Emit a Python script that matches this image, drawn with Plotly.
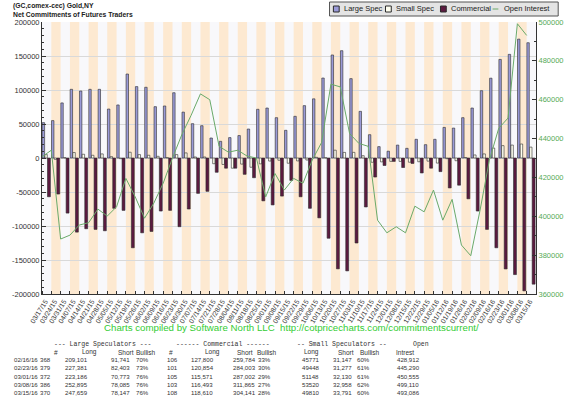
import plotly.graph_objects as go

# ---------------- data ----------------
dates = ["03/17/15", "03/24/15", "03/31/15", "04/07/15", "04/14/15", "04/21/15", "04/28/15",
         "05/05/15", "05/12/15", "05/19/15", "05/26/15", "06/02/15", "06/09/15", "06/16/15",
         "06/23/15", "06/30/15", "07/07/15", "07/14/15", "07/21/15", "07/28/15", "08/04/15",
         "08/11/15", "08/18/15", "08/25/15", "09/01/15", "09/08/15", "09/15/15", "09/22/15",
         "09/29/15", "10/06/15", "10/13/15", "10/20/15", "10/27/15", "11/03/15", "11/10/15",
         "11/17/15", "11/24/15", "12/01/15", "12/08/15", "12/15/15", "12/22/15", "12/29/15",
         "01/05/16", "01/12/16", "01/19/16", "01/26/16", "02/02/16", "02/09/16", "02/16/16",
         "02/23/16", "03/01/16", "03/08/16", "03/15/16"]

large_spec = [52000, 55000, 81000, 101000, 98500, 101000, 101000, 72000, 78000, 123500,
              105000, 104000, 75500, 76500, 96000, 67500, 50500, 47500, 29400, 24500,
              30000, 33000, 42600, 71600, 73500, 59300, 40700, 61300, 77000, 87000,
              117600, 151500, 157800, 116700, 68600, 34300, 16700, 10000, 19000, 14200,
              27500, 19600, 27500, 45000, 44000, 59300, 73500, 99000, 117360, 144978,
              152413, 174810, 169512]

small_spec = [5000, -2000, 500, 8000, 5500, 4000, 6000, 2000, -1000, 8500,
              5000, 4000, 2500, 500, 5000, 7500, 1500, 1500, -8400, -9500,
              -15000, -9000, -13600, -8600, -4500, -3300, -7700, -4300, -3000, 1000,
              400, 11500, 8200, 8300, 3400, -6300, -5700, -5000, -5000, -6200,
              -5500, -4600, -7500, -1000, -4000, 700, 4500, 6000, 14624, 18171,
              19018, 20562, 16019]

commercial = [-57000, -53000, -81000, -109000, -104000, -105000, -107000, -74000, -77000, -132000,
              -110000, -108000, -78000, -77000, -101000, -75000, -52000, -49000, -21000, -15000,
              -15000, -24000, -29000, -63000, -69000, -56000, -33000, -57000, -74000, -88000,
              -118000, -163000, -166000, -125000, -72000, -28000, -11000, -5000, -14000, -8000,
              -22000, -15000, -20000, -44000, -40000, -60000, -78000, -105000, -131984, -163149,
              -171431, -195372, -185531]

open_interest = [430600, 434000, 388300, 390300, 395500, 396700, 403700, 400100, 404900, 419500,
                 410000, 399000, 406800, 417000, 430000, 442000, 452000, 463000, 460000, 436000,
                 433000, 434000, 431000, 430000, 410000, 422000, 413500, 419500, 417000, 429000,
                 438000, 468000, 466600, 442600, 437500, 436000, 398000, 391500, 394600, 391500,
                 405200, 402300, 413500, 398000, 408700, 385200, 379700, 403200, 428912, 445290,
                 450555, 499110, 493086]

left_tick_vals = [200000, 150000, 100000, 50000, 0, -50000, -100000, -150000, -200000]
left_tick_text = ["200000", "150000", "100000", "50000", "0", "-50000", "-100000", "-150000", "-200000"]
right_tick_vals = [500000, 480000, 460000, 440000, 420000, 400000, 380000, 360000]
right_tick_text = ["500000", "480000", "460000", "440000", "420000", "400000", "380000", "360000"]

title_lines = ["(GC,comex-cec) Gold,NY", "Net Commitments of Futures Traders"]
footer_text = "Charts compiled by Software North LLC  http://cotpricecharts.com/commitmentscurrent/"
legend_names = ["Large Spec", "Small Spec", "Commercial", "Open Interest"]

# table
tbl_dates = ["02/16/16", "02/23/16", "03/01/16", "03/08/16", "03/15/16"]
ls_n = ["368", "379", "372", "386", "370"]
ls_long = ["209,101", "227,381", "223,186", "252,895", "247,659"]
ls_short = ["91,741", "82,403", "70,773", "78,085", "78,147"]
ls_bull = ["70%", "73%", "76%", "76%", "76%"]
cm_n = ["106", "101", "105", "103", "108"]
cm_long = ["127,800", "120,854", "115,571", "116,493", "118,610"]
cm_short = ["259,784", "284,003", "287,002", "311,865", "304,141"]
cm_bull = ["33%", "30%", "29%", "27%", "28%"]
ss_long = ["45771", "49448", "51148", "53520", "49810"]
ss_short = ["31,147", "31,277", "32,130", "32,958", "33,791"]
ss_bull = ["60%", "61%", "61%", "62%", "60%"]
oi_tbl = ["428,912", "445,290", "450,555", "499,110", "493,086"]
hdr1 = ["--- Large Speculators ---", "------ Commercial ------", "-- Small Speculators --", "Open"]
hdr2 = ["#", "Long", "Short", "Bullish", "#", "Long", "Short", "Bullish", "Long", "Short", "Bullish", "Intrest"]

# ---------------- style ----------------
W, H = 576, 397
L, R, T, B = 33, 31, 22, 103
PW, PH = W - L - R, H - T - B
C_LARGE = "#9a9ad8"
C_SMALL = "#fffff0"
C_COMM = "#5c1a40"
C_OI = "#6aaa6a"
C_EDGE = "#2a2a2a"
C_BAND = "#fde9d1"
C_BG = "#f8f8fb"
SANS = "Liberation Sans, Arial, sans-serif"
MONO = "Liberation Mono, DejaVu Sans Mono, monospace"


def fx(px):
    return (px - L) / PW


def fy(py):
    return (H - B - py) / PH


n = len(dates)
idx = list(range(n))

fig = go.Figure()
fig.add_trace(go.Bar(x=idx, y=large_spec, name=legend_names[0], offset=0.02, width=0.26,
                     marker=dict(color=C_LARGE, line=dict(color=C_EDGE, width=0.6)), showlegend=False))
fig.add_trace(go.Bar(x=idx, y=small_spec, name=legend_names[1], offset=0.31, width=0.26,
                     marker=dict(color=C_SMALL, line=dict(color=C_EDGE, width=0.6)), showlegend=False))
fig.add_trace(go.Bar(x=idx, y=commercial, name=legend_names[2], offset=0.59, width=0.31,
                     marker=dict(color=C_COMM, line=dict(color=C_EDGE, width=0.6)), showlegend=False))
fig.add_trace(go.Scatter(x=idx, y=open_interest, name=legend_names[3], yaxis="y2", mode="lines",
                         line=dict(color=C_OI, width=1), showlegend=False))

shapes = []
for i in idx:
    if i % 2 == 1:
        shapes.append(dict(type="rect", xref="x", yref="paper", x0=i, x1=i + 1, y0=0, y1=1,
                           fillcolor=C_BAND, line=dict(width=0), layer="below"))

# custom legend
leg_box = (331, 2, 568, 16)
shapes.append(dict(type="rect", xref="paper", yref="paper", x0=fx(leg_box[0]), x1=fx(leg_box[2]),
                   y0=fy(leg_box[3]), y1=fy(leg_box[1]), fillcolor="#e4e4e4",
                   line=dict(color="#555555", width=1)))
icon_x = [335, 389, 446, 500]
text_x = [344, 398, 455, 510]
icon_fill = [C_LARGE, C_SMALL, C_COMM]
annotations = []
for k in range(4):
    if k < 3:
        shapes.append(dict(type="rect", xref="paper", yref="paper", x0=fx(icon_x[k]), x1=fx(icon_x[k] + 6),
                           y0=fy(12), y1=fy(6), fillcolor=icon_fill[k], line=dict(color=C_EDGE, width=1)))
    else:
        shapes.append(dict(type="line", xref="paper", yref="paper", x0=fx(icon_x[k]), x1=fx(icon_x[k] + 6),
                           y0=fy(9), y1=fy(9), line=dict(color=C_OI, width=1)))
    annotations.append(dict(xref="paper", yref="paper", x=fx(text_x[k]), y=fy(9), text=legend_names[k],
                            showarrow=False, xanchor="left", yanchor="middle",
                            font=dict(family=SANS, size=7.5, color="#222222")))

# title (one text block, two lines)
annotations.append(dict(xref="paper", yref="paper", x=fx(1), y=fy(0), align="left",
                        text="<br>".join("<b>" + t + "</b>" for t in title_lines),
                        showarrow=False, xanchor="left", yanchor="top",
                        font=dict(family=SANS, size=6.8, color="#222222")))

# footer
annotations.append(dict(xref="paper", yref="paper", x=fx(95), y=fy(327), text=footer_text,
                        showarrow=False, xanchor="left", yanchor="middle",
                        font=dict(family=SANS, size=9.7, color="#33cc33")))

# table
NUMF = dict(family=SANS, size=6.1, color="#333333")
HDRF = dict(family=SANS, size=6.5, color="#333333")
H1F = dict(family=MONO, size=6.5, color="#333333")


def cell(px, py, txt, font):
    annotations.append(dict(xref="paper", yref="paper", x=fx(px), y=fy(py), text=txt, showarrow=False,
                            xanchor="left", yanchor="middle", font=font))


for px, t in zip([43, 170, 295, 415], hdr1):
    cell(px, 344, t, H1F)
for px, t in zip([43, 72, 110, 128, 163, 200, 233, 254, 302, 338, 361, 398], hdr2):
    cell(px, 352, t, HDRF)
cols = [tbl_dates, ls_n, ls_long, ls_short, ls_bull, cm_n, cm_long, cm_short, cm_bull,
        ss_long, ss_short, ss_bull, oi_tbl]
col_x = [2, 29, 55, 102, 128, 160, 185, 229, 255, 300, 333, 357, 399]
for r in range(len(tbl_dates)):
    py = 359.5 + 8.3 * r
    for cx, col in zip(col_x, cols):
        cell(cx, py, col[r], NUMF)

fig.update_layout(
    width=W, height=H,
    margin=dict(l=L, r=R, t=T, b=B),
    paper_bgcolor="white", plot_bgcolor=C_BG,
    barmode="overlay",
    showlegend=False,
    shapes=shapes, annotations=annotations,
    xaxis=dict(range=[0, n], tickmode="array", tickvals=[i + 0.35 for i in idx], ticktext=dates,
               tickangle=-58, ticks="", showgrid=False, zeroline=False,
               showline=True, linecolor="#333333", linewidth=1,
               tickfont=dict(family=SANS, size=6.8, color="#333333"),
               minor=dict(tickmode="array", tickvals=list(range(n + 1)), ticks="inside", ticklen=3,
                          tickcolor="#333333", showgrid=False)),
    yaxis=dict(range=[-200000, 200000], tickmode="array", tickvals=left_tick_vals, ticktext=left_tick_text,
               ticks="inside", ticklen=4, tickcolor="#333333", showgrid=True, gridcolor="#d9d9d9",
               gridwidth=1, zeroline=False, showline=True, linecolor="#333333", linewidth=1,
               tickfont=dict(family=SANS, size=7.5, color="#333333"),
               minor=dict(dtick=10000, ticks="inside", ticklen=2, tickcolor="#333333", showgrid=False)),
    yaxis2=dict(range=[360000, 500000], overlaying="y", side="right", tickmode="array",
                tickvals=right_tick_vals, ticktext=right_tick_text, ticks="inside", ticklen=4,
                tickcolor="#333333", showgrid=False, zeroline=False, showline=True,
                linecolor="#333333", linewidth=1,
                tickfont=dict(family=SANS, size=7.5, color="#55aa55"),
                minor=dict(dtick=10000, ticks="inside", ticklen=2, tickcolor="#333333", showgrid=False)),
)

fig.write_html("out.html", config={"displayModeBar": False},
               post_script="document.body.style.margin='0px';")
